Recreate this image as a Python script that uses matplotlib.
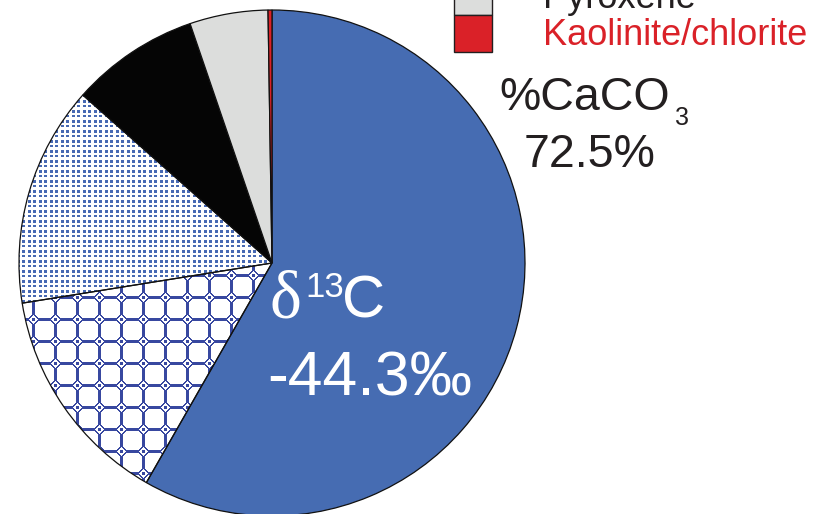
import numpy as np
import matplotlib.pyplot as plt
from matplotlib.patches import Rectangle

W, H = 819, 514

# mineral fractions (%), clockwise from 12 o'clock
fractions = [58.3, 14.2, 14.1, 8.2, 5.0, 0.25]
face_colors = ['#466cb2', 'none', 'none', '#050505', '#dcdddc', '#da2128']
fill_patterns = [None, 'octagon', 'dots', None, None, None]

legend_labels = ['Pyroxene', 'Kaolinite/chlorite']
legend_colors = ['#dcdddc', '#da2128']
legend_text_colors = ['#231f20', '#da2128']

d13c = -44.3
caco3 = 72.5

TEXT = '#231f20'
SANS = ['Liberation Sans', 'DejaVu Sans']
SERIF = ['Liberation Serif', 'DejaVu Serif']


def pattern_image(kind):
    yy, xx = np.mgrid[0:H, 0:W]
    img = np.ones((H, W, 4))
    if kind == 'octagon':
        P = 22
        u = (xx % P) - 11
        v = (yy % P) - 11
        d = np.abs(u) + np.abs(v)
        ring = (d >= 5) & (d <= 6)
        lines = ((np.abs(u) <= 1) | (np.abs(v) <= 1)) & (d >= 6)
        dot = np.maximum(np.abs(u), np.abs(v)) <= 1
        mask = ring | lines | dot
        rgb = (0x38 / 255, 0x48 / 255, 0xa0 / 255)
    else:
        cols = (xx / 5.5) % 1 < 0.5
        rows = ((yy % 5) < 2) | ((yy % 10) == 2)
        mask = cols & rows
        rgb = (0x47 / 255, 0x69 / 255, 0xb3 / 255)
    img[mask, :3] = rgb
    return img


fig = plt.figure(figsize=(W / 100, H / 100), dpi=100)
ax = fig.add_axes([0, 0, 1, 1])

wedges, _ = ax.pie(fractions, colors=face_colors, startangle=90,
                   counterclock=False, center=(272, 251), radius=253,
                   wedgeprops=dict(edgecolor='#111111', linewidth=0.9))

for w, kind in zip(wedges, fill_patterns):
    if kind is None:
        continue
    im = ax.imshow(pattern_image(kind), extent=(0, W, 0, H), origin='upper',
                   interpolation='nearest', zorder=0.9)
    im.set_clip_path(w)

ax.set_xlim(0, W)
ax.set_ylim(0, H)
ax.set_aspect('auto')
ax.axis('off')

# isotope label inside the big wedge
ax.text(269, H - 318, '\u03b4', color='white', fontsize=49, family=SERIF,
        va='baseline', ha='left')
ax.text(305, H - 297, '13', color='white', fontsize=25, family=SANS,
        va='baseline', ha='left')
ax.text(342, H - 318, 'C', color='white', fontsize=43, family=SANS,
        va='baseline', ha='left')
ax.text(267, H - 395, f'{d13c:.1f}\u2030', color='white', fontsize=45,
        family=SANS, va='baseline', ha='left')

# carbonate content
ax.text(499, H - 110, '%CaCO', color=TEXT, fontsize=33.5, family=SANS,
        va='baseline', ha='left')
ax.text(675, H - 125, '3', color=TEXT, fontsize=18, family=SANS,
        va='baseline', ha='left')
ax.text(524, H - 167, f'{caco3:.1f}%', color=TEXT, fontsize=33.5,
        family=SANS, va='baseline', ha='left')

# legend (upper entries run off the top)
for i, (lab, fc, tc) in enumerate(zip(legend_labels, legend_colors,
                                      legend_text_colors)):
    top = -22 + 37 * i
    ax.add_patch(Rectangle((454, H - top - 37), 38, 37, facecolor=fc,
                           edgecolor='#231f20', linewidth=1.0))
    ax.text(543, H - (8 + 37 * i), lab, color=tc, fontsize=26, family=SANS,
            va='baseline', ha='left')

fig.savefig('out.png', dpi=100)
